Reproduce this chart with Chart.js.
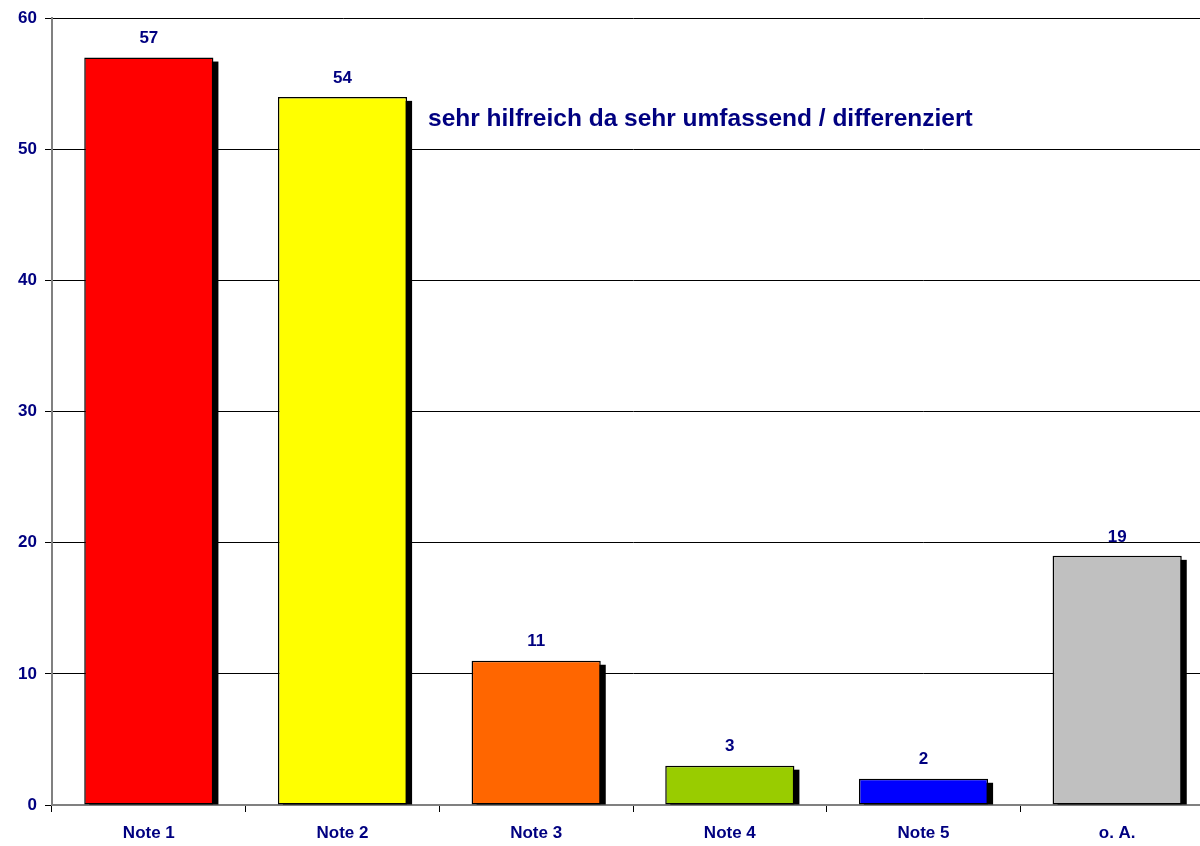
<!DOCTYPE html>
<html>
<head>
<meta charset="utf-8">
<script src="https://cdn.jsdelivr.net/npm/chart.js@4/dist/chart.umd.min.js"></script>
<style>
  html, body { margin: 0; padding: 0; background: #fff; overflow: hidden; }
  #wrap { width: 1214px; height: 846px; }
</style>
</head>
<body>
<div id="wrap"><canvas id="chart" width="1214" height="846"></canvas></div>
<script>
  const categories = ["Note 1", "Note 2", "Note 3", "Note 4", "Note 5", "o. A."];
  const values = [57, 54, 11, 3, 2, 19];
  const barColors = ["#FF0000", "#FFFF00", "#FF6600", "#99CC00", "#0000FF", "#C0C0C0"];
  const titleText = "sehr hilfreich da sehr umfassend / differenziert";

  const navy = "#000080";
  const font = "'Liberation Sans', Arial, sans-serif";

  // schwarzer Schatten rechts neben den Balken
  const shadowPlugin = {
    id: "shadow",
    beforeDatasetsDraw(chart) {
      const ctx = chart.ctx;
      const meta = chart.getDatasetMeta(0);
      ctx.save();
      ctx.fillStyle = "#000";
      meta.data.forEach((bar) => {
        const w = bar.width;
        ctx.fillRect(bar.x - w / 2 + 5, bar.y + 4, w, bar.base - bar.y - 4);
      });
      ctx.restore();
    },
  };

  // Werte über den Balken + Überschrift im Diagramm
  const labelPlugin = {
    id: "labels",
    afterDatasetsDraw(chart) {
      const ctx = chart.ctx;
      const meta = chart.getDatasetMeta(0);
      ctx.save();
      ctx.fillStyle = navy;
      ctx.textAlign = "center";
      ctx.textBaseline = "middle";
      ctx.font = "bold 17px " + font;
      meta.data.forEach((bar, i) => {
        ctx.fillText(String(values[i]), bar.x, bar.y - 19);
      });
      ctx.textAlign = "left";
      ctx.font = "bold 24.5px " + font;
      ctx.fillText(titleText, 428, 119);
      ctx.restore();
    },
  };

  new Chart(document.getElementById("chart"), {
    type: "bar",
    data: {
      labels: categories,
      datasets: [
        {
          data: values,
          backgroundColor: barColors,
          borderColor: "#000",
          borderWidth: 1.5,
          borderSkipped: false,
          categoryPercentage: 1,
          barPercentage: 0.667,
        },
      ],
    },
    options: {
      responsive: false,
      animation: false,
      layout: { padding: { top: 17, left: 0, right: 0, bottom: 0 } },
      plugins: {
        legend: { display: false },
        tooltip: { enabled: false },
      },
      scales: {
        y: {
          min: 0,
          max: 60,
          ticks: {
            stepSize: 10,
            color: navy,
            padding: 8,
            font: { family: font, size: 17, weight: "bold" },
          },
          grid: { color: "#000", lineWidth: 1, tickLength: 7 },
          border: { color: "#808080", width: 2 },
          afterFit(scale) { scale.width = 52; },
        },
        x: {
          ticks: {
            color: navy,
            padding: 11,
            font: { family: font, size: 17, weight: "bold" },
          },
          grid: { drawOnChartArea: false, color: "#000", tickLength: 7 },
          border: { color: "#808080", width: 2 },
          afterFit(scale) { scale.height = 41; },
        },
      },
    },
    plugins: [shadowPlugin, labelPlugin],
  });
</script>
</body>
</html>
